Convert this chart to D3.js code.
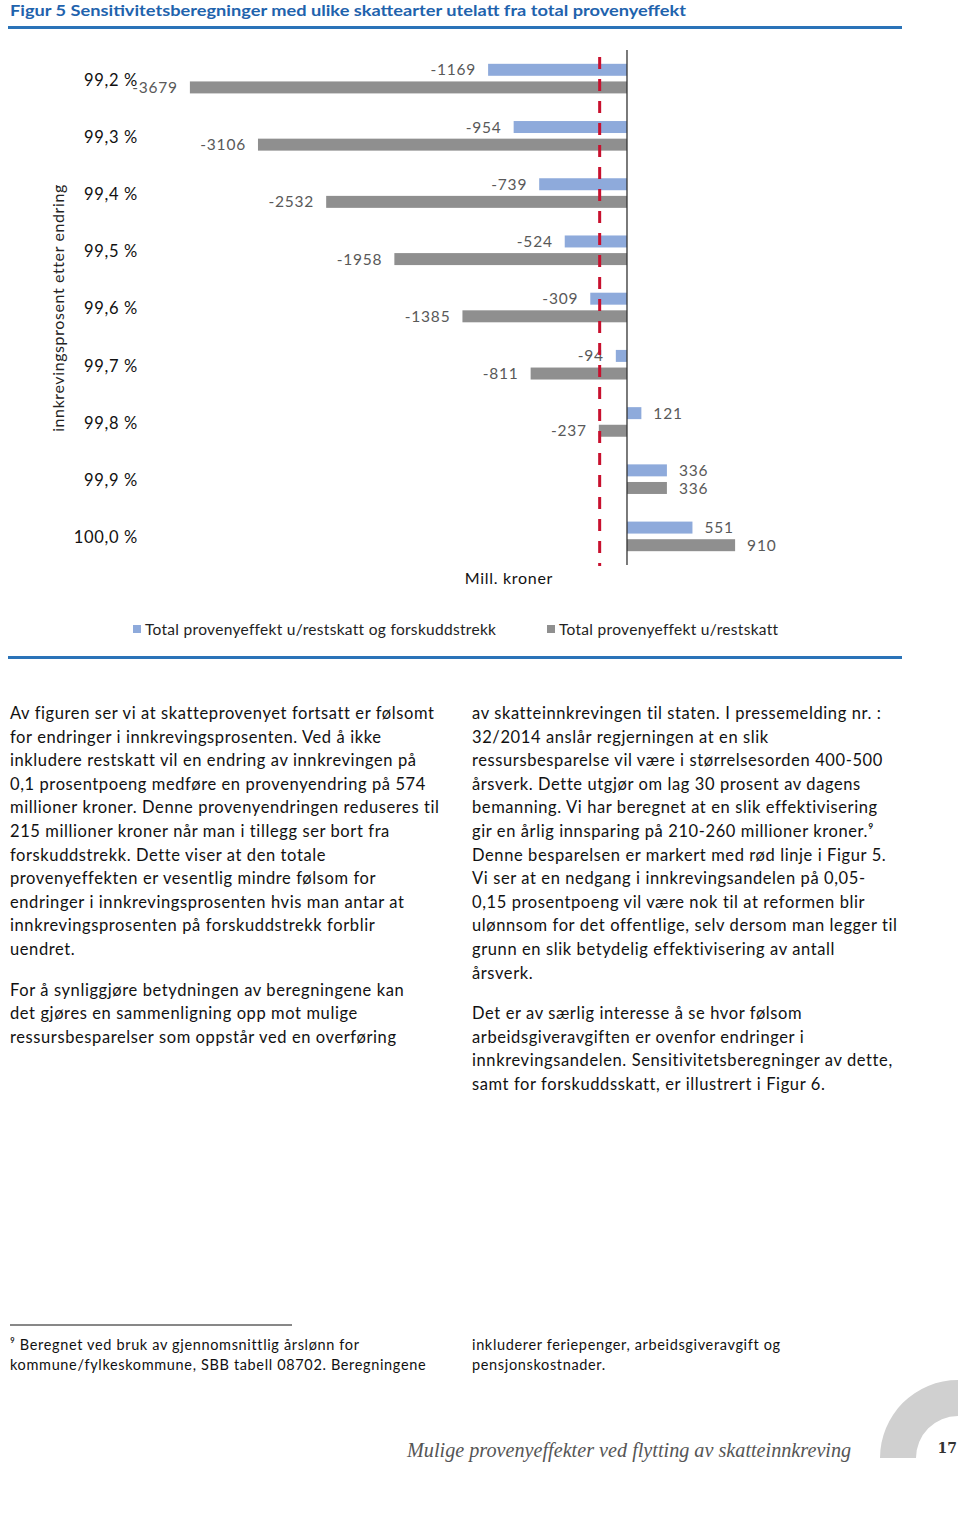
<!DOCTYPE html>
<html>
<head>
<meta charset="utf-8">
<script src="https://cdn.jsdelivr.net/npm/d3@7"></script>
<style>
  html, body { margin: 0; padding: 0; background: #fff; }
  svg text { font-family: Lato, "Open Sans", sans-serif; }
</style>
</head>
<body>
<svg id="page" width="960" height="1513"></svg>
<script>
// chart data
const categories = ["99,2 %", "99,3 %", "99,4 %", "99,5 %", "99,6 %", "99,7 %", "99,8 %", "99,9 %", "100,0 %"];
const seriesNames = ["Total provenyeffekt u/restskatt og forskuddstrekk", "Total provenyeffekt u/restskatt"];
const blueValues = [-1169, -954, -739, -524, -309, -94, 121, 336, 551];
const grayValues = [-3679, -3106, -2532, -1958, -1385, -811, -237, 336, 910];
const savingsMarker = -230; // red dashed line, ressursbesparelse

const colors = ["#8eaadb", "#8f8f8f"];

const svg = d3.select("#page");

// title + rule
svg.append("text")
  .attr("x", 10).attr("y", 16)
  .attr("textLength", 676).attr("lengthAdjust", "spacingAndGlyphs")
  .style("font-weight", "bold").style("font-size", "16px").style("fill", "#1f63ad")
  .text("Figur 5 Sensitivitetsberegninger med ulike skattearter utelatt fra total provenyeffekt");
svg.append("line").attr("x1", 8).attr("x2", 902).attr("y1", 27.5).attr("y2", 27.5)
  .attr("stroke", "#2a73b8").attr("stroke-width", 3);

// scales
const x = d3.scaleLinear().domain([-3700, 1000]).range([187.4, 745.8]);
const y0 = d3.scaleBand().domain(categories).range([50, 565]);
const y1 = d3.scaleBand().domain(seriesNames)
  .range([y0.bandwidth() / 2 - 14.8, y0.bandwidth() / 2 + 14.8]).paddingInner(0.32);

const rows = categories.map((c, i) => ({ cat: c, vals: [blueValues[i], grayValues[i]] }));

const g = svg.append("g");

const groups = g.selectAll("g.row").data(rows).join("g")
  .attr("class", "row")
  .attr("transform", d => `translate(0,${y0(d.cat)})`);

const cells = groups.selectAll("g.cell")
  .data(d => d.vals.map((v, k) => ({ v, s: seriesNames[k], k })))
  .join("g").attr("class", "cell");

cells.append("rect")
  .attr("x", d => Math.min(x(0), x(d.v)))
  .attr("width", d => Math.abs(x(d.v) - x(0)))
  .attr("y", d => y1(d.s))
  .attr("height", y1.bandwidth())
  .attr("fill", d => colors[d.k]);

cells.append("text")
  .attr("x", d => d.v < 0 ? x(d.v) - 12 : x(d.v) + 12)
  .attr("y", d => y1(d.s) + y1.bandwidth() / 2)
  .attr("dy", "0.36em")
  .attr("text-anchor", d => d.v < 0 ? "end" : "start")
  .style("font-size", "15.5px").style("letter-spacing", "0.8px").style("fill", "#595959")
  .text(d => d.v);

// category labels
g.selectAll("text.cat").data(categories).join("text")
  .attr("class", "cat")
  .attr("x", 138).attr("y", d => y0(d) + y0.bandwidth() / 2 + 1)
  .attr("dy", "0.36em").attr("text-anchor", "end")
  .style("font-size", "16.5px").style("letter-spacing", "0.7px").style("fill", "#111")
  .text(d => d);

// zero axis
g.append("line").attr("x1", x(0)).attr("x2", x(0)).attr("y1", 50).attr("y2", 565)
  .attr("stroke", "#333").attr("stroke-width", 1.3);

// red marker line
g.append("line").attr("x1", x(savingsMarker)).attr("x2", x(savingsMarker))
  .attr("y1", 57).attr("y2", 566)
  .attr("stroke", "#c8102e").attr("stroke-width", 3).attr("stroke-dasharray", "12,10");

// axis titles
svg.append("text")
  .attr("transform", "translate(64,308) rotate(-90)")
  .attr("text-anchor", "middle")
  .style("font-size", "16px").style("letter-spacing", "0.6px").style("fill", "#222")
  .text("innkrevingsprosent etter endring");
svg.append("text")
  .attr("x", 509).attr("y", 584).attr("text-anchor", "middle")
  .style("font-size", "16px").style("letter-spacing", "0.7px").style("fill", "#111")
  .text("Mill. kroner");

// legend
const legX = [133, 547];
const leg = svg.selectAll("g.leg").data(seriesNames).join("g")
  .attr("class", "leg")
  .attr("transform", (d, i) => `translate(${legX[i]},625)`);
leg.append("rect").attr("width", 8).attr("height", 8).attr("fill", (d, i) => colors[i]);
leg.append("text").attr("x", 12).attr("y", 4).attr("dy", "0.36em")
  .style("font-size", "15.5px").style("letter-spacing", "0.3px").style("fill", "#222")
  .text(d => d);

svg.append("line").attr("x1", 8).attr("x2", 902).attr("y1", 657.5).attr("y2", 657.5)
  .attr("stroke", "#2a73b8").attr("stroke-width", 3);

// body text
const leftCol = [
  ["Av figuren ser vi at skatteprovenyet fortsatt er følsomt",
   "for endringer i innkrevingsprosenten. Ved å ikke",
   "inkludere restskatt vil en endring av innkrevingen på",
   "0,1 prosentpoeng medføre en provenyendring på 574",
   "millioner kroner. Denne provenyendringen reduseres til",
   "215 millioner kroner når man i tillegg ser bort fra",
   "forskuddstrekk. Dette viser at den totale",
   "provenyeffekten er vesentlig mindre følsom for",
   "endringer i innkrevingsprosenten hvis man antar at",
   "innkrevingsprosenten på forskuddstrekk forblir",
   "uendret."],
  ["For å synliggjøre betydningen av beregningene kan",
   "det gjøres en sammenligning opp mot mulige",
   "ressursbesparelser som oppstår ved en overføring"]
];
const rightCol = [
  ["av skatteinnkrevingen til staten. I pressemelding nr. :",
   "32/2014 anslår regjerningen at en slik",
   "ressursbesparelse vil være i størrelsesorden 400-500",
   "årsverk. Dette utgjør om lag 30 prosent av dagens",
   "bemanning. Vi har beregnet at en slik effektivisering",
   "gir en årlig innsparing på 210-260 millioner kroner.⁹",
   "Denne besparelsen er markert med rød linje i Figur 5.",
   "Vi ser at en nedgang i innkrevingsandelen på 0,05-",
   "0,15 prosentpoeng vil være nok til at reformen blir",
   "ulønnsom for det offentlige, selv dersom man legger til",
   "grunn en slik betydelig effektivisering av antall",
   "årsverk."],
  ["Det er av særlig interesse å se hvor følsom",
   "arbeidsgiveravgiften er ovenfor endringer i",
   "innkrevingsandelen. Sensitivitetsberegninger av dette,",
   "samt for forskuddsskatt, er illustrert i Figur 6."]
];

function column(paras, x0, y0) {
  let yy = y0;
  paras.forEach(lines => {
    lines.forEach(l => {
      svg.append("text").attr("x", x0).attr("y", yy)
        .style("font-size", "16.5px").style("letter-spacing", "0.6px")
        .style("fill", "#111").text(l);
      yy += 23.6;
    });
    yy += 17;
  });
}
column(leftCol, 10, 719);
column(rightCol, 472, 719);

// footnote
svg.append("line").attr("x1", 10).attr("x2", 292).attr("y1", 1325).attr("y2", 1325)
  .attr("stroke", "#111").attr("stroke-width", 1);
const fn = [
  [10, ["⁹ Beregnet ved bruk av gjennomsnittlig årslønn for", "kommune/fylkeskommune, SBB tabell 08702. Beregningene"]],
  [472, ["inkluderer feriepenger, arbeidsgiveravgift og", "pensjonskostnader."]]
];
fn.forEach(([fx, lines]) => lines.forEach((l, i) => {
  svg.append("text").attr("x", fx).attr("y", 1350 + i * 19.5)
    .style("font-size", "14.5px").style("letter-spacing", "0.65px")
    .style("fill", "#111").text(l);
}));

// footer
const ring = d3.arc().innerRadius(42).outerRadius(78).startAngle(-Math.PI / 2).endAngle(0);
svg.append("path").attr("d", ring()).attr("transform", "translate(958,1458)").attr("fill", "#d0d0d0");
svg.append("text").attr("x", 407).attr("y", 1457)
  .style("font-family", "'Liberation Serif', 'DejaVu Serif', serif").style("font-style", "italic")
  .style("font-size", "20.2px").style("fill", "#555")
  .text("Mulige provenyeffekter ved flytting av skatteinnkreving");
svg.append("text").attr("x", 957).attr("y", 1453).attr("text-anchor", "end")
  .style("font-family", "'DejaVu Serif', serif").style("font-weight", "bold")
  .style("font-size", "14px").style("fill", "#333")
  .text("17");
</script>
</body>
</html>
